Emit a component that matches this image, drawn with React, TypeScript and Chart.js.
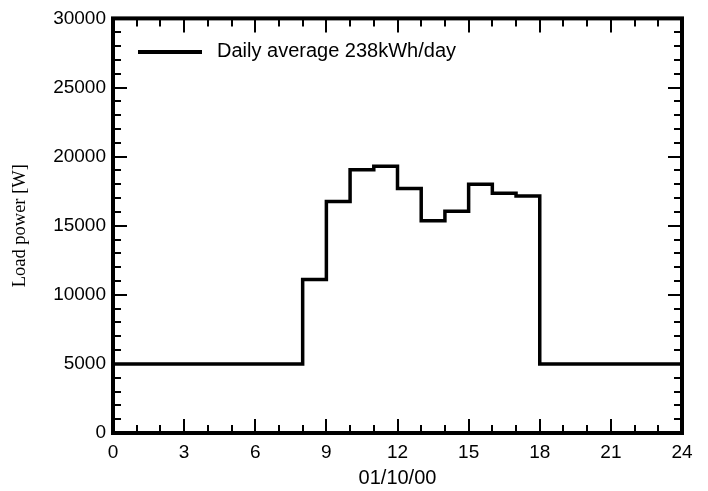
import React, { useEffect, useRef } from "react";
import { Chart, registerables } from "chart.js";
Chart.register(...registerables);

// Hour of day (step start) and load power in W
const hours = [0, 1, 2, 3, 4, 5, 6, 7, 8, 9, 10, 11, 12, 13, 14, 15, 16, 17, 18, 19, 20, 21, 22, 23, 24];
const loadW = [
  5000, 5000, 5000, 5000, 5000, 5000, 5000, 5000,
  11100, 16750, 19050, 19300, 17700, 15350, 16050, 18000, 17350, 17150,
  5000, 5000, 5000, 5000, 5000, 5000, 5000,
];
const seriesLabel = "Daily average 238kWh/day";
const xTitle = "01/10/00";
const yTitle = "Load power [W]";
const xMajorStep = 3;
const xMinorStep = 1;
const yMajorStep = 5000;
const yMinorStep = 1000;

const SANS = "'Liberation Sans', Arial, sans-serif";
const SERIF = "'Liberation Serif', 'Times New Roman', serif";

const framePlugin = {
  id: "frameTicks",
  afterDatasetsDraw(chart: any) {
    const { ctx, chartArea, scales } = chart;
    const { left, right, top, bottom } = chartArea;
    const xs = scales.x;
    const ys = scales.y;
    ctx.save();
    ctx.strokeStyle = "#000";
    ctx.lineWidth = 2;
    ctx.lineCap = "butt";
    // x ticks (bottom and top, pointing inward)
    for (let v = xs.min; v <= xs.max + 1e-9; v += xMinorStep) {
      const px = Math.round(xs.getPixelForValue(v));
      const len = Math.abs(v % xMajorStep) < 1e-9 ? 14 : 8;
      ctx.beginPath();
      ctx.moveTo(px, bottom);
      ctx.lineTo(px, bottom - len);
      ctx.moveTo(px, top);
      ctx.lineTo(px, top + len);
      ctx.stroke();
    }
    // y ticks (left and right, pointing inward)
    for (let v = ys.min; v <= ys.max + 1e-9; v += yMinorStep) {
      const py = Math.round(ys.getPixelForValue(v));
      const len = Math.abs(v % yMajorStep) < 1e-9 ? 14 : 8;
      ctx.beginPath();
      ctx.moveTo(left, py);
      ctx.lineTo(left + len, py);
      ctx.moveTo(right, py);
      ctx.lineTo(right - len, py);
      ctx.stroke();
    }
    // frame
    ctx.lineWidth = 4;
    ctx.strokeRect(left, top, right - left, bottom - top);

    // legend
    const ly = 52;
    ctx.lineWidth = 4;
    ctx.beginPath();
    ctx.moveTo(138, ly);
    ctx.lineTo(202, ly);
    ctx.stroke();
    ctx.fillStyle = "#000";
    ctx.font = `20px ${SANS}`;
    ctx.textAlign = "left";
    ctx.textBaseline = "middle";
    ctx.fillText(chart.data.datasets[0].label, 217, ly - 1);
    ctx.restore();
  },
};

export default function App() {
  const ref = useRef<HTMLCanvasElement | null>(null);
  useEffect(() => {
    if (!ref.current) return;
    const chart = new Chart(ref.current, {
      type: "line",
      data: {
        datasets: [
          {
            label: seriesLabel,
            data: hours.map((h, i) => ({ x: h, y: loadW[i] })),
            borderColor: "#000",
            borderWidth: 3.5,
            pointRadius: 0,
            stepped: true,
            fill: false,
          },
        ],
      },
      options: {
        animation: false,
        responsive: false,
        devicePixelRatio: 1,
        layout: { padding: { top: 14, right: 26, left: 0, bottom: 0 } },
        plugins: { legend: { display: false }, tooltip: { enabled: false } },
        scales: {
          x: {
            type: "linear",
            min: 0,
            max: 24,
            afterFit: (s: any) => {
              s.height = 58;
            },
            grid: { display: false, drawTicks: false },
            border: { display: false },
            ticks: {
              stepSize: xMajorStep,
              color: "#000",
              padding: 8,
              maxRotation: 0,
              font: { size: 19, family: SANS },
              callback: (v: any) => String(v),
            },
            title: {
              display: true,
              text: xTitle,
              color: "#000",
              font: { size: 20, family: SANS },
              padding: { top: 2, bottom: 1 },
            },
          },
          y: {
            type: "linear",
            min: 0,
            max: 30000,
            afterFit: (s: any) => {
              s.width = 113;
            },
            grid: { display: false, drawTicks: false },
            border: { display: false },
            ticks: {
              stepSize: yMajorStep,
              color: "#000",
              padding: 7,
              font: { size: 19, family: SANS },
              callback: (v: any) => String(v),
            },
            title: {
              display: true,
              text: yTitle,
              color: "#000",
              font: { size: 18.5, family: SERIF },
              padding: { top: 9, bottom: 0 },
            },
          },
        },
      },
      plugins: [framePlugin],
    });
    return () => chart.destroy();
  }, []);
  return (
    <div style={{ position: "absolute", left: 0, top: 0, width: 708, height: 491, background: "#fff" }}>
      <canvas ref={ref} width={708} height={491} style={{ display: "block" }} />
    </div>
  );
}
